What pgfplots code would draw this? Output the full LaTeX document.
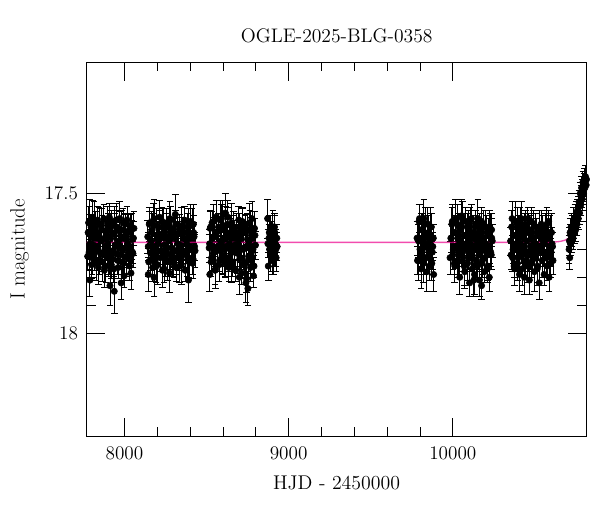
\documentclass[border=0pt]{standalone}
\usepackage{pgfplots}
\pgfplotsset{compat=1.18}
\usepackage{pgfplotstable}

% OGLE photometry (HJD-2450000, I mag, error)
\pgfplotstableread{
x y e
7776 17.725 0.05
7782 17.605 0.06
7788 17.695 0.04
7794 17.645 0.07
7800 17.755 0.05
7806 17.585 0.06
7812 17.685 0.05
7818 17.735 0.04
7824 17.625 0.06
7830 17.705 0.07
7836 17.595 0.05
7842 17.765 0.06
7848 17.655 0.05
7854 17.715 0.04
7860 17.615 0.06
7866 17.745 0.07
7872 17.665 0.05
7878 17.775 0.06
7884 17.635 0.05
7890 17.695 0.04
7896 17.605 0.06
7902 17.725 0.07
7908 17.585 0.05
7914 17.705 0.06
7920 17.755 0.05
7926 17.645 0.04
7932 17.735 0.06
7938 17.615 0.07
7944 17.685 0.05
7950 17.595 0.06
7956 17.715 0.05
7962 17.765 0.04
7968 17.625 0.06
7974 17.695 0.07
7980 17.655 0.05
7986 17.745 0.06
7992 17.605 0.05
7998 17.795 0.04
8004 17.635 0.06
8010 17.725 0.07
8016 17.595 0.05
8022 17.705 0.06
8028 17.735 0.05
8034 17.615 0.04
8040 17.785 0.06
8046 17.665 0.07
8052 17.715 0.05
8058 17.625 0.06
7790 17.81 0.06
7912 17.83 0.07
7938 17.85 0.08
7980 17.82 0.06
7786 17.60 0.08
7779 17.64 0.05
7785 17.71 0.06
7791 17.68 0.05
7797 17.62 0.04
7803 17.73 0.06
7809 17.66 0.05
7815 17.60 0.07
7821 17.70 0.05
7827 17.75 0.06
7833 17.64 0.05
7839 17.69 0.04
7845 17.61 0.06
7851 17.74 0.05
7857 17.67 0.07
7863 17.63 0.05
7869 17.72 0.06
7875 17.59 0.05
7881 17.70 0.04
7887 17.76 0.06
7893 17.65 0.05
7899 17.68 0.07
7905 17.62 0.05
7911 17.73 0.06
7917 17.66 0.05
7923 17.60 0.04
7929 17.71 0.06
7935 17.77 0.05
7941 17.64 0.07
7947 17.69 0.05
7953 17.62 0.06
7959 17.74 0.05
7965 17.67 0.04
7971 17.59 0.06
7977 17.72 0.05
7983 17.63 0.07
7989 17.70 0.05
7995 17.75 0.06
8001 17.66 0.05
8007 17.61 0.04
8013 17.73 0.06
8019 17.68 0.05
8025 17.64 0.07
8031 17.76 0.05
8037 17.69 0.06
8043 17.62 0.05
8049 17.71 0.04
8055 17.66 0.06
8142 17.655 0.06
8148 17.745 0.05
8154 17.605 0.04
8160 17.715 0.06
8166 17.635 0.07
8172 17.765 0.05
8178 17.595 0.06
8184 17.695 0.05
8190 17.725 0.04
8196 17.615 0.06
8202 17.755 0.07
8208 17.665 0.05
8214 17.585 0.06
8220 17.705 0.05
8226 17.645 0.04
8232 17.775 0.06
8238 17.625 0.07
8244 17.685 0.05
8250 17.735 0.06
8256 17.605 0.05
8262 17.715 0.04
8268 17.655 0.06
8274 17.785 0.07
8280 17.595 0.05
8286 17.695 0.06
8292 17.745 0.05
8298 17.625 0.04
8304 17.705 0.06
8310 17.575 0.07
8316 17.765 0.05
8322 17.645 0.06
8328 17.725 0.05
8334 17.615 0.04
8340 17.685 0.06
8346 17.755 0.07
8352 17.635 0.05
8358 17.705 0.06
8364 17.595 0.05
8370 17.775 0.04
8376 17.665 0.06
8382 17.725 0.07
8388 17.605 0.05
8394 17.745 0.06
8400 17.645 0.05
8406 17.695 0.04
8412 17.615 0.06
8418 17.735 0.07
8424 17.655 0.05
8430 17.705 0.06
8145 17.79 0.06
8180 17.80 0.07
8390 17.81 0.08
8420 17.61 0.07
8145 17.69 0.05
8151 17.61 0.06
8157 17.74 0.05
8163 17.67 0.04
8169 17.63 0.06
8175 17.72 0.05
8181 17.59 0.07
8187 17.70 0.05
8193 17.76 0.06
8199 17.65 0.05
8205 17.68 0.04
8211 17.62 0.06
8217 17.73 0.05
8223 17.66 0.07
8229 17.60 0.05
8235 17.71 0.06
8241 17.77 0.05
8247 17.64 0.04
8253 17.69 0.06
8259 17.62 0.05
8265 17.74 0.07
8271 17.67 0.05
8277 17.59 0.06
8283 17.72 0.05
8289 17.63 0.04
8295 17.70 0.06
8301 17.75 0.05
8307 17.66 0.07
8313 17.61 0.05
8319 17.73 0.06
8325 17.68 0.05
8331 17.64 0.04
8337 17.76 0.06
8343 17.69 0.05
8349 17.62 0.07
8355 17.71 0.05
8361 17.66 0.06
8367 17.64 0.05
8373 17.71 0.04
8379 17.68 0.06
8385 17.62 0.05
8391 17.73 0.07
8397 17.66 0.05
8403 17.60 0.06
8409 17.70 0.05
8415 17.75 0.04
8421 17.64 0.06
8427 17.69 0.05
8516 17.695 0.05
8522 17.625 0.06
8528 17.745 0.05
8534 17.605 0.04
8540 17.715 0.06
8546 17.655 0.07
8552 17.775 0.05
8558 17.585 0.06
8564 17.705 0.05
8570 17.635 0.04
8576 17.755 0.06
8582 17.595 0.07
8588 17.685 0.05
8594 17.725 0.06
8600 17.575 0.05
8606 17.665 0.04
8612 17.735 0.06
8618 17.615 0.07
8624 17.695 0.05
8630 17.585 0.06
8636 17.765 0.05
8642 17.645 0.04
8648 17.705 0.06
8654 17.605 0.07
8660 17.745 0.05
8666 17.625 0.06
8672 17.685 0.05
8678 17.775 0.04
8684 17.655 0.06
8690 17.715 0.07
8696 17.595 0.05
8702 17.735 0.06
8708 17.645 0.05
8714 17.785 0.04
8720 17.615 0.06
8726 17.695 0.07
8732 17.755 0.05
8738 17.635 0.06
8744 17.805 0.05
8750 17.665 0.04
8756 17.725 0.06
8762 17.605 0.07
8768 17.765 0.05
8774 17.645 0.06
8780 17.705 0.05
8786 17.795 0.04
8792 17.625 0.06
8798 17.685 0.05
8520 17.79 0.06
8615 17.57 0.07
8740 17.82 0.07
8752 17.84 0.06
8700 17.80 0.06
8519 17.68 0.05
8525 17.62 0.06
8531 17.73 0.05
8537 17.66 0.04
8543 17.60 0.06
8549 17.71 0.05
8555 17.77 0.07
8561 17.64 0.05
8567 17.69 0.06
8573 17.62 0.05
8579 17.74 0.04
8585 17.67 0.06
8591 17.59 0.05
8597 17.72 0.07
8603 17.63 0.05
8609 17.70 0.06
8615 17.75 0.05
8621 17.66 0.04
8627 17.61 0.06
8633 17.73 0.05
8639 17.68 0.07
8645 17.64 0.05
8651 17.76 0.06
8657 17.69 0.05
8663 17.62 0.04
8669 17.71 0.06
8675 17.66 0.05
8681 17.64 0.07
8687 17.71 0.05
8693 17.68 0.06
8699 17.62 0.05
8705 17.73 0.04
8711 17.66 0.06
8717 17.60 0.05
8723 17.70 0.07
8729 17.75 0.05
8735 17.64 0.06
8741 17.69 0.05
8747 17.61 0.04
8753 17.74 0.06
8759 17.67 0.05
8765 17.63 0.07
8771 17.72 0.05
8777 17.59 0.06
8783 17.70 0.05
8789 17.76 0.04
8795 17.65 0.06
8872 17.59 0.07
8876 17.76 0.05
8880 17.66 0.05
8884 17.70 0.06
8888 17.63 0.05
8892 17.72 0.06
8896 17.65 0.05
8900 17.74 0.05
8904 17.62 0.06
8908 17.69 0.05
8912 17.71 0.05
8916 17.64 0.06
8920 17.68 0.05
8924 17.73 0.05
8928 17.66 0.05
8874 17.68 0.05
8882 17.64 0.06
8890 17.71 0.05
8898 17.67 0.04
8906 17.73 0.06
8914 17.62 0.05
8922 17.70 0.06
8930 17.69 0.05
9782 17.66 0.06
9788 17.74 0.07
9794 17.60 0.06
9800 17.70 0.05
9806 17.77 0.07
9812 17.63 0.06
9818 17.68 0.05
9824 17.59 0.07
9830 17.73 0.06
9836 17.65 0.05
9842 17.78 0.07
9848 17.61 0.06
9854 17.71 0.05
9860 17.67 0.06
9866 17.62 0.07
9872 17.75 0.06
9878 17.69 0.05
9883 17.79 0.06
9785 17.74 0.05
9791 17.67 0.06
9797 17.59 0.05
9803 17.72 0.04
9809 17.63 0.06
9815 17.70 0.05
9821 17.75 0.07
9827 17.66 0.05
9833 17.61 0.06
9839 17.73 0.05
9845 17.68 0.04
9851 17.64 0.06
9857 17.76 0.05
9863 17.69 0.07
9869 17.62 0.05
9875 17.71 0.06
9881 17.66 0.05
9988 17.66 0.05
9994 17.61 0.06
10000 17.72 0.05
10006 17.64 0.04
10012 17.76 0.06
10018 17.59 0.07
10024 17.69 0.05
10030 17.74 0.06
10036 17.62 0.05
10042 17.80 0.06
10048 17.67 0.04
10054 17.58 0.06
10060 17.71 0.07
10066 17.65 0.05
10072 17.78 0.06
10078 17.60 0.05
10084 17.70 0.04
10090 17.75 0.06
10096 17.63 0.07
10102 17.82 0.05
10108 17.68 0.06
10114 17.59 0.05
10120 17.73 0.04
10126 17.66 0.06
10132 17.79 0.07
10138 17.61 0.05
10144 17.70 0.06
10150 17.76 0.05
10156 17.64 0.04
10162 17.81 0.06
10168 17.68 0.07
10174 17.60 0.05
10180 17.74 0.06
10186 17.66 0.05
10192 17.78 0.04
10198 17.62 0.06
10204 17.71 0.07
10210 17.77 0.05
10216 17.65 0.06
10222 17.80 0.05
10228 17.63 0.06
10234 17.72 0.05
10240 17.67 0.06
9983 17.73 0.06
10128 17.81 0.06
10175 17.83 0.05
10236 17.63 0.06
9991 17.66 0.05
9997 17.60 0.06
10003 17.70 0.05
10009 17.75 0.04
10015 17.64 0.06
10021 17.69 0.05
10027 17.61 0.07
10033 17.74 0.05
10039 17.67 0.06
10045 17.63 0.05
10051 17.72 0.04
10057 17.59 0.06
10063 17.70 0.05
10069 17.76 0.07
10075 17.65 0.05
10081 17.68 0.06
10087 17.62 0.05
10093 17.73 0.04
10099 17.66 0.06
10105 17.60 0.05
10111 17.71 0.07
10117 17.77 0.05
10123 17.64 0.06
10129 17.69 0.05
10135 17.62 0.04
10141 17.74 0.06
10147 17.67 0.05
10153 17.59 0.07
10159 17.72 0.05
10165 17.63 0.06
10171 17.70 0.05
10177 17.75 0.04
10183 17.66 0.06
10189 17.61 0.05
10195 17.73 0.07
10201 17.68 0.05
10207 17.64 0.06
10213 17.76 0.05
10219 17.69 0.04
10225 17.62 0.06
10231 17.71 0.05
10237 17.66 0.07
10352 17.67 0.05
10358 17.62 0.06
10364 17.73 0.05
10370 17.65 0.04
10376 17.77 0.06
10382 17.60 0.07
10388 17.70 0.05
10394 17.75 0.06
10400 17.63 0.05
10406 17.79 0.06
10412 17.68 0.04
10418 17.59 0.06
10424 17.72 0.07
10430 17.66 0.05
10436 17.80 0.06
10442 17.61 0.05
10448 17.71 0.04
10454 17.76 0.06
10460 17.64 0.07
10466 17.81 0.05
10472 17.69 0.06
10478 17.60 0.05
10484 17.74 0.04
10490 17.67 0.06
10496 17.78 0.07
10502 17.62 0.05
10508 17.71 0.06
10514 17.77 0.05
10520 17.65 0.04
10526 17.82 0.06
10532 17.69 0.07
10538 17.61 0.05
10544 17.74 0.06
10550 17.67 0.05
10556 17.79 0.04
10562 17.63 0.06
10568 17.72 0.07
10574 17.76 0.05
10580 17.66 0.06
10586 17.80 0.05
10592 17.64 0.06
10598 17.71 0.05
10604 17.68 0.06
10610 17.74 0.05
10573 17.61 0.06
10355 17.72 0.05
10361 17.59 0.06
10367 17.70 0.05
10373 17.76 0.04
10379 17.65 0.06
10385 17.68 0.05
10391 17.62 0.07
10397 17.73 0.05
10403 17.66 0.06
10409 17.60 0.05
10415 17.71 0.04
10421 17.77 0.06
10427 17.64 0.05
10433 17.69 0.07
10439 17.62 0.05
10445 17.74 0.06
10451 17.67 0.05
10457 17.59 0.04
10463 17.72 0.06
10469 17.63 0.05
10475 17.70 0.07
10481 17.75 0.05
10487 17.66 0.06
10493 17.61 0.05
10499 17.73 0.04
10505 17.68 0.06
10511 17.64 0.05
10517 17.76 0.07
10523 17.69 0.05
10529 17.62 0.06
10535 17.71 0.05
10541 17.66 0.04
10547 17.64 0.06
10553 17.71 0.05
10559 17.68 0.07
10565 17.62 0.05
10571 17.73 0.06
10577 17.66 0.05
10583 17.60 0.04
10589 17.70 0.06
10595 17.75 0.05
10601 17.64 0.07
10607 17.69 0.05
10708 17.70 0.05
10712 17.73 0.04
10714 17.64 0.05
10716 17.68 0.04
10720 17.62 0.05
10724 17.67 0.04
10728 17.63 0.05
10732 17.66 0.04
10736 17.60 0.05
10740 17.64 0.04
10744 17.59 0.05
10748 17.63 0.04
10752 17.57 0.04
10756 17.61 0.04
10760 17.56 0.04
10764 17.59 0.04
10768 17.53 0.04
10772 17.57 0.04
10776 17.50 0.04
10780 17.54 0.04
10784 17.48 0.04
10788 17.52 0.04
10792 17.46 0.04
10796 17.50 0.04
10800 17.45 0.04
10804 17.48 0.04
10808 17.44 0.04
10812 17.47 0.04
10710 17.67 0.05
10718 17.65 0.04
10726 17.64 0.05
10734 17.62 0.04
10742 17.61 0.04
10750 17.59 0.04
10758 17.58 0.04
10766 17.55 0.04
10774 17.53 0.04
10782 17.51 0.04
10790 17.49 0.04
10798 17.47 0.04
10806 17.46 0.04
10814 17.45 0.04
}\phot

% microlensing model
\pgfplotstableread{
x y
7700 17.675
10600 17.675
10650 17.672
10680 17.668
10700 17.662
10720 17.650
10740 17.628
10750 17.612
10760 17.590
10770 17.562
10780 17.528
10790 17.495
10800 17.468
10808 17.455
10815 17.452
10830 17.455
}\model

\begin{document}
\begin{tikzpicture}
\begin{axis}[
  name=ax,
  scale only axis,
  width=375pt, height=281pt,
  xmin=7770, xmax=10815,
  ymin=17.03, ymax=18.37,
  y dir=reverse,
  axis line style={black, line width=0.7pt},
  xtick={8000,9000,10000},
  minor x tick num=4,
  ytick={17.5,18},
  minor y tick num=4,
  tick align=inside,
  major tick length=14pt,
  minor tick length=7pt,
  tick style={black, line width=0.6pt},
  scaled x ticks=false,
  xticklabel style={font=\fontsize{15.5}{17}\selectfont, yshift=-4pt},
  yticklabel style={font=\fontsize{15.5}{17}\selectfont, xshift=-3pt},
  /pgf/number format/.cd, 1000 sep={}, /pgfplots/.cd,
  title={OGLE-2025-BLG-0358},
  title style={font=\fontsize{14.7}{16}\selectfont, at={(0.5,1)}, anchor=center, yshift=14pt},
  xlabel={HJD - 2450000},
  xlabel style={font=\fontsize{14.9}{16}\selectfont, at={(0.5,0)}, anchor=center, yshift=-35pt},
  ylabel={I magnitude},
  ylabel style={font=\fontsize{15.5}{17}\selectfont, at={(-0.134,0.5)}, anchor=center},
  clip=true,
]
\addplot[
  only marks, mark=*, mark size=2.4pt, black,
  error bars/.cd, y dir=both, y explicit,
  error bar style={black, line width=0.7pt},
  error mark options={rotate=90, mark size=2.5pt, black, line width=0.6pt},
] table[x=x, y=y, y error=e] {\phot};
\addplot[magenta, line width=1pt, opacity=0.7] table[x=x, y=y] {\model};
\end{axis}
\pgfresetboundingbox
\path[use as bounding box] ([shift={(-65pt,-56pt)}]ax.south west) rectangle ([shift={(10pt,46.5pt)}]ax.north east);
\end{tikzpicture}
\end{document}
